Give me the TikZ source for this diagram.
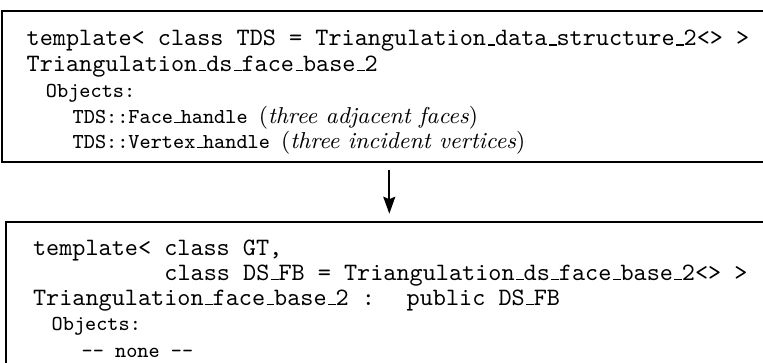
\documentclass[tikz,border=0pt]{standalone}
\usetikzlibrary{arrows.meta}
\newcommand\usc{\kern.06em\rule{.3em}{.045em}}
\tikzset{
  box/.style={draw, line width=0.8pt, rectangle, inner sep=0pt, outer sep=0pt},
  big/.style={anchor=base west, inner sep=0pt, outer sep=0pt, font=\fontsize{10}{12}\selectfont\ttfamily},
  sml/.style={anchor=base west, inner sep=0pt, outer sep=0pt, font=\fontsize{8.5}{10}\selectfont\ttfamily},
  arr/.style={line width=0.8pt, -{Stealth[length=6.8pt,width=4.8pt,inset=1pt]}},
}
\newcommand\itx[1]{{\rmfamily\fontsize{9.2}{11}\selectfont\textup{(}\textit{#1}\textup{)}}}
\begin{document}
\begin{tikzpicture}[x=0.4pt,y=-0.4pt]
\useasboundingbox (0,0) rectangle (763,362);
\clip (0,0) rectangle (763,362);
% boxes
\node[box, minimum width=319.3pt, minimum height=60.2pt] (tb) at (400.85,86.25) {};
\node[box, minimum width=317.6pt, minimum height=71.3pt] (bb) at (403,310.85) {};
% top box text
\node[big] (t1) at (26.7,45.5) {template< class TDS = Triangulation\usc data\usc structure\usc 2<> >};
\node[big] (t2) at (26.7,71) {Triangulation\usc ds\usc face\usc base\usc 2};
\node[sml] (t3) at (46,97) {Objects:};
\node[sml] (t4) at (72.7,123) {TDS::Face\usc handle \itx{three adjacent faces}};
\node[sml] (t5) at (72.7,148) {TDS::Vertex\usc handle \itx{three incident vertices}};
% bottom box text
\node[big] (b1) at (33,255) {template< class GT,};
\node[big] (b2) at (164.5,280) {class DS\usc FB = Triangulation\usc ds\usc face\usc base\usc 2<> >};
\node[big] (b3) at (33,305) {Triangulation\usc face\usc base\usc 2 :};
\node[big] (b3b) at (406.7,305) {public DS\usc FB};
\node[sml] (b4) at (51.7,330) {Objects:};
\node[sml] (b5) at (81.7,357) {-{}- none -{}-};
% arrow
\coordinate (ax) at (389.3,0);
\draw[arr, shorten <=3.2pt, shorten >=3.2pt] (tb.south -| ax) -- (bb.north -| ax);
\end{tikzpicture}
\end{document}
